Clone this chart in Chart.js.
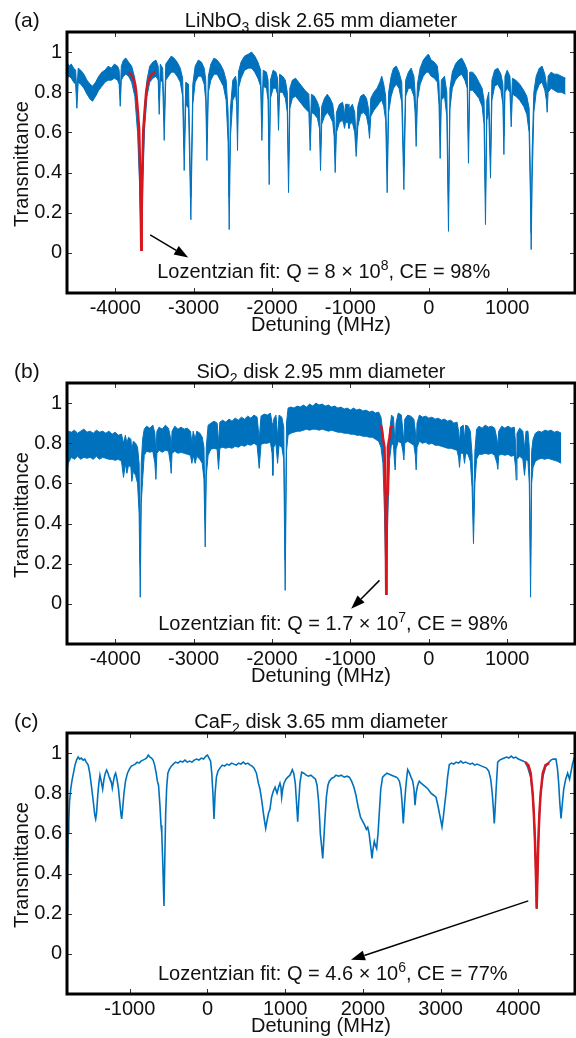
<!DOCTYPE html>
<html>
<head>
<meta charset="utf-8">
<script src="https://cdn.jsdelivr.net/npm/chart.js@4.4.1/dist/chart.umd.min.js"></script>
<style>
  body { margin: 0; background: #fff; width: 576px; height: 1038px; position: relative; overflow: hidden; }
  canvas { position: absolute; left: 0; }
</style>
</head>
<body>
<canvas id="chartA" width="576" height="336" style="top:0px"></canvas>
<canvas id="chartB" width="576" height="336" style="top:351px"></canvas>
<canvas id="chartC" width="577" height="337" style="top:701px"></canvas>
<script>
// ---- values ----
const yTicks = [0, 0.2, 0.4, 0.6, 0.8, 1];
const xTicksAB = [-4000, -3000, -2000, -1000, 0, 1000];
const xTicksC = [-1000, 0, 1000, 2000, 3000, 4000];

// panel (a): LiNbO3, noise band [detuning MHz, upper, lower]
const bandA = [
  [-4612,0.95,0.87],[-4590,0.93,0.88],[-4560,0.94,0.87],[-4530,0.92,0.85],[-4505,0.91,0.84],
  [-4489,0.80,0.72],[-4472,0.92,0.85],[-4440,0.91,0.84],[-4400,0.89,0.82],[-4360,0.86,0.79],
  [-4320,0.84,0.765],[-4290,0.83,0.755],[-4250,0.85,0.78],[-4210,0.88,0.81],[-4170,0.90,0.83],
  [-4130,0.91,0.85],[-4090,0.93,0.86],[-4050,0.92,0.86],[-4010,0.94,0.87],[-3970,0.93,0.86],
  [-3950,0.91,0.84],[-3936,0.79,0.73],[-3922,0.93,0.86],[-3895,0.96,0.88],[-3865,0.97,0.89],
  [-3830,0.95,0.88],[-3790,0.93,0.85],[-3750,0.87,0.78],[-3715,0.72,0.60],[-3690,0.45,0.35],
  [-3668,0.04,0.02],[-3648,0.45,0.35],[-3625,0.72,0.62],[-3595,0.86,0.78],[-3560,0.93,0.85],
  [-3520,0.95,0.87],[-3480,0.96,0.88],[-3452,0.93,0.86],[-3439,0.76,0.69],[-3425,0.94,0.86],
  [-3395,0.92,0.85],[-3375,0.66,0.56],[-3355,0.94,0.86],[-3320,0.96,0.88],[-3285,0.98,0.90],
  [-3250,0.97,0.90],[-3210,0.95,0.88],[-3170,0.92,0.85],[-3140,0.87,0.78],[-3120,0.52,0.41],
  [-3100,0.85,0.74],[-3065,0.84,0.72],[-3035,0.28,0.165],[-3010,0.84,0.74],[-2980,0.93,0.85],
  [-2940,0.96,0.88],[-2900,0.95,0.88],[-2865,0.92,0.84],[-2845,0.86,0.76],[-2830,0.56,0.46],
  [-2812,0.88,0.80],[-2780,0.94,0.86],[-2740,0.97,0.89],[-2700,0.96,0.89],[-2660,0.94,0.86],
  [-2620,0.91,0.83],[-2585,0.86,0.76],[-2560,0.70,0.55],[-2546,0.28,0.116],[-2530,0.72,0.58],
  [-2500,0.86,0.76],[-2465,0.88,0.79],[-2450,0.84,0.74],[-2440,0.60,0.51],[-2428,0.90,0.82],
  [-2395,0.95,0.87],[-2350,0.98,0.91],[-2300,0.99,0.92],[-2260,1.00,0.92],[-2220,0.98,0.90],
  [-2180,0.95,0.87],[-2145,0.91,0.83],[-2129,0.68,0.56],[-2112,0.91,0.83],[-2070,0.90,0.82],
  [-2050,0.86,0.76],[-2036,0.46,0.34],[-2020,0.86,0.77],[-1985,0.91,0.82],[-1950,0.90,0.82],
  [-1930,0.87,0.79],[-1917,0.72,0.61],[-1903,0.89,0.80],[-1865,0.88,0.80],[-1830,0.86,0.77],
  [-1805,0.80,0.70],[-1789,0.42,0.30],[-1772,0.82,0.72],[-1740,0.86,0.77],[-1700,0.87,0.78],
  [-1660,0.85,0.76],[-1620,0.83,0.74],[-1580,0.81,0.72],[-1530,0.79,0.70],[-1513,0.60,0.51],
  [-1497,0.79,0.70],[-1460,0.78,0.69],[-1420,0.75,0.67],[-1395,0.72,0.62],[-1381,0.52,0.41],
  [-1366,0.73,0.64],[-1330,0.77,0.68],[-1295,0.79,0.70],[-1260,0.77,0.68],[-1225,0.74,0.65],
  [-1208,0.68,0.58],[-1194,0.50,0.40],[-1178,0.70,0.60],[-1140,0.74,0.65],[-1100,0.75,0.66],
  [-1085,0.72,0.64],[-1075,0.68,0.62],[-1062,0.74,0.65],[-1030,0.74,0.65],[-1018,0.70,0.62],
  [-1008,0.72,0.64],[-975,0.74,0.65],[-945,0.70,0.60],[-926,0.56,0.48],[-905,0.73,0.63],
  [-870,0.78,0.69],[-830,0.79,0.70],[-795,0.77,0.68],[-770,0.72,0.63],[-756,0.64,0.57],
  [-740,0.77,0.68],[-700,0.80,0.71],[-660,0.82,0.73],[-625,0.85,0.75],[-600,0.88,0.76],
  [-575,0.84,0.73],[-550,0.78,0.66],[-531,0.42,0.30],[-512,0.80,0.70],[-480,0.88,0.78],
  [-450,0.92,0.82],[-415,0.93,0.84],[-380,0.90,0.82],[-345,0.85,0.75],[-318,0.43,0.315],
  [-295,0.86,0.78],[-260,0.90,0.82],[-225,0.92,0.82],[-190,0.88,0.78],[-175,0.80,0.70],
  [-161,0.63,0.53],[-145,0.84,0.76],[-110,0.92,0.84],[-70,0.96,0.88],[-30,0.98,0.90],
  [-5,0.99,0.90],[30,0.96,0.88],[70,0.95,0.87],[110,0.93,0.85],[130,0.85,0.74],
  [145,0.58,0.47],[160,0.86,0.76],[200,0.88,0.78],[230,0.80,0.68],[251,0.24,0.107],
  [270,0.82,0.72],[300,0.90,0.82],[340,0.94,0.86],[380,0.96,0.88],[420,0.97,0.89],
  [460,0.94,0.86],[490,0.91,0.82],[506,0.56,0.446],[522,0.90,0.81],[560,0.90,0.81],
  [600,0.88,0.79],[640,0.85,0.77],[680,0.82,0.73],[705,0.76,0.64],[723,0.28,0.141],
  [740,0.76,0.66],[765,0.80,0.70],[787,0.48,0.372],[805,0.86,0.76],[840,0.91,0.83],
  [880,0.92,0.84],[920,0.89,0.81],[945,0.84,0.74],[958,0.58,0.49],[972,0.88,0.80],
  [1000,0.91,0.82],[1035,0.88,0.80],[1051,0.72,0.628],[1067,0.87,0.79],[1110,0.86,0.78],
  [1160,0.84,0.76],[1210,0.81,0.73],[1250,0.78,0.69],[1280,0.72,0.60],[1295,0.40,0.30],
  [1306,0.10,0.016],[1318,0.50,0.35],[1340,0.80,0.70],[1370,0.88,0.80],[1410,0.92,0.84],
  [1445,0.93,0.85],[1480,0.89,0.81],[1500,0.84,0.76],[1510,0.77,0.70],[1522,0.88,0.80],
  [1560,0.90,0.82],[1600,0.89,0.81],[1640,0.89,0.80],[1690,0.88,0.80],[1744,0.87,0.79]
];
const fitA = [
  [-3830,0.896],[-3800,0.89],[-3770,0.87],[-3745,0.84],[-3732,0.80],[-3710,0.70],[-3694,0.61],
  [-3682,0.40],[-3674,0.20],[-3668,0.016],[-3662,0.20],[-3654,0.40],[-3642,0.61],[-3626,0.70],
  [-3605,0.80],[-3590,0.84],[-3565,0.87],[-3530,0.89],[-3490,0.90]
];

// panel (b): SiO2
const bandB = [
  [-4612,0.84,0.66],[-4600,0.86,0.70],[-4560,0.855,0.73],[-4520,0.865,0.72],[-4480,0.85,0.735],
  [-4440,0.86,0.72],[-4400,0.87,0.73],[-4360,0.855,0.725],[-4320,0.86,0.73],[-4280,0.85,0.72],
  [-4240,0.865,0.735],[-4200,0.855,0.72],[-4160,0.86,0.73],[-4120,0.85,0.725],[-4080,0.86,0.72],
  [-4040,0.845,0.72],[-4000,0.855,0.715],[-3960,0.84,0.72],[-3920,0.845,0.71],[-3894,0.80,0.63],
  [-3870,0.84,0.70],[-3851,0.80,0.65],[-3830,0.83,0.69],[-3800,0.82,0.68],[-3788,0.76,0.61],
  [-3770,0.81,0.66],[-3740,0.80,0.64],[-3715,0.78,0.60],[-3695,0.70,0.45],[-3681,0.20,0.033],
  [-3668,0.70,0.50],[-3650,0.82,0.62],[-3630,0.87,0.74],[-3600,0.885,0.76],[-3560,0.875,0.755],
  [-3520,0.89,0.76],[-3494,0.85,0.70],[-3481,0.75,0.62],[-3468,0.86,0.75],[-3440,0.88,0.765],
  [-3400,0.87,0.755],[-3360,0.89,0.765],[-3320,0.875,0.76],[-3296,0.83,0.70],[-3286,0.76,0.65],
  [-3275,0.86,0.75],[-3240,0.885,0.76],[-3200,0.87,0.75],[-3160,0.88,0.755],[-3120,0.87,0.75],
  [-3080,0.875,0.745],[-3040,0.86,0.74],[-3022,0.80,0.70],[-3005,0.86,0.74],[-2980,0.82,0.70],
  [-2960,0.86,0.735],[-2920,0.85,0.72],[-2890,0.83,0.70],[-2868,0.78,0.62],[-2852,0.42,0.283],
  [-2838,0.78,0.64],[-2815,0.89,0.74],[-2780,0.90,0.77],[-2740,0.91,0.775],[-2700,0.90,0.77],
  [-2682,0.80,0.67],[-2665,0.905,0.775],[-2630,0.915,0.78],[-2590,0.905,0.775],[-2550,0.92,0.78],
  [-2510,0.91,0.775],[-2470,0.925,0.785],[-2430,0.915,0.78],[-2390,0.93,0.79],[-2350,0.92,0.785],
  [-2310,0.935,0.795],[-2270,0.925,0.79],[-2230,0.94,0.80],[-2190,0.93,0.79],[-2163,0.82,0.675],
  [-2140,0.935,0.795],[-2100,0.945,0.80],[-2060,0.94,0.80],[-2020,0.95,0.805],[-1999,0.90,0.75],
  [-1989,0.79,0.64],[-1978,0.92,0.78],[-1950,0.94,0.80],[-1929,0.83,0.70],[-1910,0.94,0.79],
  [-1875,0.93,0.78],[-1850,0.88,0.72],[-1832,0.22,0.067],[-1815,0.90,0.76],[-1795,0.975,0.84],
  [-1760,0.98,0.85],[-1720,0.975,0.855],[-1680,0.985,0.86],[-1640,0.98,0.86],[-1600,0.99,0.865],
  [-1560,0.98,0.87],[-1520,0.995,0.865],[-1480,0.985,0.87],[-1440,1.0,0.87],[-1400,0.99,0.865],
  [-1360,0.995,0.87],[-1320,0.985,0.865],[-1280,0.99,0.86],[-1240,0.98,0.865],[-1200,0.985,0.86],
  [-1160,0.975,0.855],[-1120,0.98,0.855],[-1080,0.97,0.85],[-1040,0.975,0.85],[-1000,0.965,0.845],
  [-960,0.975,0.845],[-920,0.965,0.84],[-880,0.97,0.84],[-840,0.96,0.835],[-800,0.965,0.835],
  [-760,0.955,0.83],[-720,0.96,0.83],[-680,0.95,0.82],[-640,0.955,0.81],[-610,0.93,0.78],
  [-585,0.85,0.70],[-565,0.60,0.45],[-543,0.15,0.05],[-522,0.60,0.45],[-500,0.86,0.72],
  [-475,0.94,0.80],[-450,0.93,0.79],[-440,0.86,0.72],[-429,0.78,0.667],[-418,0.90,0.77],
  [-390,0.95,0.81],[-350,0.94,0.80],[-330,0.86,0.76],[-318,0.80,0.717],[-306,0.92,0.80],
  [-270,0.94,0.81],[-230,0.935,0.80],[-190,0.92,0.79],[-172,0.86,0.74],[-161,0.78,0.667],
  [-150,0.90,0.78],[-120,0.94,0.81],[-80,0.93,0.80],[-40,0.935,0.805],[0,0.925,0.795],
  [40,0.93,0.80],[80,0.92,0.79],[120,0.925,0.79],[160,0.915,0.785],[200,0.92,0.78],
  [240,0.91,0.775],[280,0.915,0.775],[320,0.90,0.77],[360,0.905,0.765],[380,0.86,0.73],
  [392,0.80,0.68],[405,0.88,0.75],[440,0.89,0.75],[456,0.82,0.70],[470,0.89,0.75],
  [500,0.885,0.745],[530,0.86,0.71],[552,0.74,0.58],[570,0.43,0.30],[588,0.76,0.60],
  [610,0.87,0.72],[640,0.885,0.745],[680,0.875,0.745],[720,0.89,0.75],[760,0.88,0.745],
  [800,0.885,0.75],[840,0.875,0.74],[870,0.82,0.70],[881,0.78,0.67],[892,0.86,0.74],
  [930,0.885,0.745],[970,0.875,0.74],[1010,0.885,0.745],[1050,0.875,0.735],[1090,0.88,0.74],
  [1107,0.80,0.68],[1115,0.72,0.617],[1125,0.85,0.72],[1160,0.875,0.735],[1200,0.86,0.72],
  [1221,0.77,0.64],[1240,0.86,0.72],[1265,0.86,0.71],[1282,0.78,0.60],[1298,0.20,0.033],
  [1312,0.76,0.60],[1330,0.82,0.68],[1360,0.85,0.71],[1400,0.86,0.72],[1440,0.855,0.725],
  [1480,0.865,0.72],[1520,0.86,0.725],[1560,0.865,0.72],[1600,0.855,0.715],[1640,0.86,0.71],
  [1689,0.85,0.70]
];
const fitB = [
  [-620,0.89],[-600,0.875],[-586,0.83],[-565,0.78],[-553,0.55],[-548,0.30],[-543,0.05],
  [-538,0.30],[-533,0.55],[-522,0.78],[-501,0.83],[-486,0.875],[-466,0.89]
];

// panel (c): CaF2, single trace [detuning MHz, transmittance]
const lineC = [
  [-1808,0.22],[-1802,0.42],[-1795,0.60],[-1785,0.66],[-1775,0.76],[-1760,0.82],[-1745,0.86],
  [-1725,0.90],[-1705,0.94],[-1685,0.965],[-1665,0.98],[-1645,0.97],[-1625,0.975],[-1600,0.965],
  [-1580,0.97],[-1560,0.955],[-1535,0.94],[-1515,0.90],[-1495,0.84],[-1470,0.76],[-1450,0.69],
  [-1439,0.672],[-1428,0.70],[-1412,0.79],[-1398,0.85],[-1384,0.89],[-1368,0.86],[-1349,0.82],
  [-1332,0.87],[-1315,0.90],[-1298,0.916],[-1280,0.90],[-1265,0.88],[-1255,0.87],[-1240,0.86],
  [-1225,0.825],[-1210,0.86],[-1195,0.89],[-1182,0.90],[-1165,0.87],[-1145,0.82],[-1125,0.74],
  [-1112,0.69],[-1104,0.672],[-1092,0.72],[-1075,0.80],[-1055,0.86],[-1030,0.90],[-1005,0.92],
  [-980,0.935],[-955,0.94],[-930,0.945],[-905,0.955],[-880,0.95],[-855,0.96],[-830,0.965],
  [-805,0.97],[-785,0.975],[-762,0.99],[-740,0.98],[-720,0.975],[-700,0.965],[-680,0.94],
  [-660,0.90],[-645,0.86],[-630,0.84],[-612,0.74],[-598,0.64],[-588,0.60],[-575,0.45],
  [-560,0.238],[-548,0.50],[-538,0.70],[-525,0.83],[-510,0.90],[-490,0.92],[-465,0.935],
  [-440,0.945],[-410,0.955],[-380,0.95],[-350,0.96],[-320,0.955],[-290,0.965],[-260,0.955],
  [-230,0.96],[-200,0.955],[-170,0.965],[-140,0.97],[-110,0.965],[-80,0.975],[-50,0.97],
  [-20,0.985],[0,0.99],[20,0.975],[40,0.96],[55,0.90],[70,0.80],[84,0.672],[98,0.80],
  [115,0.88],[135,0.91],[160,0.925],[190,0.94],[220,0.935],[250,0.945],[280,0.94],[310,0.95],
  [340,0.945],[370,0.94],[400,0.95],[430,0.945],[460,0.955],[490,0.945],[520,0.95],[550,0.94],
  [575,0.935],[600,0.925],[630,0.90],[655,0.85],[676,0.82],[700,0.76],[720,0.70],[735,0.66],
  [749,0.625],[765,0.66],[785,0.70],[804,0.72],[825,0.78],[847,0.81],[870,0.83],[895,0.80],
  [915,0.83],[933,0.85],[945,0.83],[955,0.78],[968,0.82],[985,0.85],[1010,0.87],[1035,0.88],
  [1062,0.89],[1080,0.905],[1092,0.917],[1110,0.90],[1130,0.85],[1145,0.76],[1161,0.658],
  [1175,0.76],[1190,0.85],[1212,0.905],[1240,0.90],[1270,0.89],[1300,0.885],[1330,0.89],
  [1360,0.88],[1390,0.87],[1410,0.84],[1430,0.76],[1445,0.66],[1452,0.60],[1468,0.54],
  [1483,0.475],[1495,0.55],[1510,0.66],[1530,0.78],[1550,0.84],[1568,0.86],[1600,0.875],
  [1630,0.88],[1654,0.89],[1690,0.885],[1720,0.89],[1760,0.88],[1795,0.885],[1825,0.88],
  [1855,0.86],[1885,0.83],[1911,0.79],[1940,0.73],[1970,0.68],[1997,0.66],[2025,0.64],
  [2045,0.62],[2062,0.63],[2080,0.60],[2095,0.55],[2105,0.52],[2117,0.475],[2130,0.52],
  [2147,0.56],[2162,0.54],[2177,0.525],[2195,0.60],[2211,0.70],[2230,0.82],[2254,0.88],
  [2280,0.89],[2310,0.90],[2340,0.895],[2370,0.89],[2400,0.885],[2430,0.88],[2448,0.875],
  [2470,0.86],[2490,0.82],[2505,0.75],[2520,0.65],[2535,0.74],[2550,0.82],[2565,0.88],
  [2577,0.917],[2600,0.90],[2620,0.88],[2641,0.86],[2658,0.82],[2671,0.74],[2685,0.80],
  [2705,0.84],[2726,0.86],[2750,0.85],[2780,0.84],[2812,0.83],[2840,0.82],[2876,0.80],
  [2910,0.79],[2941,0.78],[2965,0.74],[2990,0.69],[3005,0.66],[3018,0.633],[3035,0.68],
  [3055,0.75],[3070,0.80],[3090,0.88],[3112,0.942],[3140,0.95],[3170,0.945],[3200,0.955],
  [3230,0.95],[3260,0.96],[3290,0.95],[3320,0.955],[3350,0.95],[3380,0.945],[3410,0.95],
  [3440,0.94],[3470,0.945],[3500,0.94],[3530,0.935],[3560,0.93],[3590,0.925],[3620,0.91],
  [3645,0.87],[3665,0.80],[3680,0.72],[3691,0.65],[3702,0.72],[3715,0.82],[3735,0.955],
  [3760,0.965],[3790,0.97],[3820,0.975],[3850,0.98],[3880,0.975],[3910,0.985],[3940,0.975],
  [3970,0.98],[4000,0.97],[4030,0.965],[4060,0.96],[4090,0.955],[4120,0.93],[4160,0.88],
  [4190,0.78],[4210,0.62],[4225,0.42],[4237,0.225],[4249,0.42],[4264,0.62],[4284,0.78],
  [4314,0.88],[4350,0.93],[4385,0.95],[4420,0.965],[4450,0.97],[4485,0.97],[4505,0.92],
  [4520,0.85],[4535,0.75],[4550,0.675],[4565,0.74],[4585,0.82],[4610,0.87],[4635,0.90],
  [4660,0.87],[4680,0.91],[4700,0.95],[4721,0.975],[4743,0.98]
];
const fitC = [
  [4090,0.955],[4130,0.94],[4160,0.90],[4185,0.80],[4200,0.70],[4215,0.56],[4228,0.38],
  [4237,0.225],[4246,0.38],[4258,0.56],[4272,0.70],[4288,0.80],[4315,0.90],[4350,0.94],[4399,0.95]
];

const BLUE = '#0072bd';
const RED = '#d7161e';
const FONT = '"Liberation Sans", Arial, Helvetica, sans-serif';

function richText(ctx, parts, x, y, align) {
  // parts: [text, 0 normal | -1 subscript | 1 superscript]
  const widths = parts.map(([t, k]) => {
    ctx.font = (k ? 14 : 20) + 'px ' + FONT;
    return ctx.measureText(t).width;
  });
  let cx = align === 'center' ? x - widths.reduce((s, w) => s + w, 0) / 2 : x;
  ctx.textAlign = 'left';
  ctx.textBaseline = 'alphabetic';
  parts.forEach(([t, k], i) => {
    ctx.font = (k ? 14 : 20) + 'px ' + FONT;
    ctx.fillText(t, cx, y + (k < 0 ? 5 : k > 0 ? -8 : 0));
    cx += widths[i];
  });
}

function decor(cfg) {
  return {
    id: 'decor',
    afterDraw(chart) {
      const { ctx, chartArea: a, scales: { x, y } } = chart;
      ctx.save();
      // inward tick marks on all four sides
      ctx.strokeStyle = '#333';
      ctx.lineWidth = 1;
      ctx.beginPath();
      cfg.xTicks.forEach(v => {
        const px = Math.round(x.getPixelForValue(v)) + 0.5;
        ctx.moveTo(px, a.bottom); ctx.lineTo(px, a.bottom - 5);
        ctx.moveTo(px, a.top); ctx.lineTo(px, a.top + 5);
      });
      yTicks.forEach(v => {
        const py = Math.round(y.getPixelForValue(v)) + 0.5;
        ctx.moveTo(a.left, py); ctx.lineTo(a.left + 5, py);
        ctx.moveTo(a.right, py); ctx.lineTo(a.right - 5, py);
      });
      ctx.stroke();
      // heavy frame
      ctx.strokeStyle = '#000';
      ctx.lineWidth = 3;
      ctx.strokeRect(a.left, a.top, a.right - a.left, a.bottom - a.top);

      ctx.fillStyle = '#111';
      // panel letter and title
      ctx.font = '21px ' + FONT;
      ctx.textAlign = 'left';
      ctx.textBaseline = 'alphabetic';
      ctx.fillText(cfg.letter, 14, 27);
      richText(ctx, cfg.title, (a.left + a.right) / 2, 26.5, 'center');
      // axis titles
      ctx.font = '20px ' + FONT;
      ctx.textAlign = 'center';
      ctx.fillText('Detuning (MHz)', (a.left + a.right) / 2, 331);
      ctx.save();
      ctx.translate(28, 164);
      ctx.rotate(-Math.PI / 2);
      ctx.fillText('Transmittance', 0, 0);
      ctx.restore();
      // annotation
      richText(ctx, cfg.note, x.getPixelForValue(cfg.noteAt[0]), y.getPixelForValue(cfg.noteAt[1]), 'left');
      // arrow
      const x1 = x.getPixelForValue(cfg.arrow[0]), y1 = y.getPixelForValue(cfg.arrow[1]);
      const x2 = x.getPixelForValue(cfg.arrow[2]), y2 = y.getPixelForValue(cfg.arrow[3]);
      const ang = Math.atan2(y2 - y1, x2 - x1);
      const hl = 14, hw = 5;
      ctx.strokeStyle = '#000';
      ctx.fillStyle = '#000';
      ctx.lineWidth = 1.5;
      ctx.beginPath();
      ctx.moveTo(x1, y1);
      ctx.lineTo(x2 - hl * Math.cos(ang), y2 - hl * Math.sin(ang));
      ctx.stroke();
      ctx.beginPath();
      ctx.moveTo(x2, y2);
      ctx.lineTo(x2 - hl * Math.cos(ang) + hw * Math.sin(ang), y2 - hl * Math.sin(ang) - hw * Math.cos(ang));
      ctx.lineTo(x2 - hl * Math.cos(ang) - hw * Math.sin(ang), y2 - hl * Math.sin(ang) + hw * Math.cos(ang));
      ctx.closePath();
      ctx.fill();
      ctx.restore();
    }
  };
}

function axes(xMin, xMax, xTicks, xHeight) {
  return {
    x: {
      type: 'linear', min: xMin, max: xMax,
      afterBuildTicks: s => { s.ticks = xTicks.map(v => ({ value: v })); },
      afterFit: s => { s.height = xHeight; },
      grid: { display: false, drawTicks: false, tickLength: 0 },
      border: { display: false },
      ticks: { padding: 3, color: '#111', font: { family: FONT, size: 20 }, maxRotation: 0, callback: v => String(v) }
    },
    y: {
      type: 'linear', min: -0.2, max: 1.1,
      afterBuildTicks: s => { s.ticks = yTicks.map(v => ({ value: v })); },
      afterFit: s => { s.width = 67; },
      grid: { display: false, drawTicks: false, tickLength: 0 },
      border: { display: false },
      ticks: { padding: 5, color: '#111', font: { family: FONT, size: 20 }, callback: v => String(+v.toFixed(1)) }
    }
  };
}

const pts = rows => rows.map(r => ({ x: r[0], y: r[1] }));
const low = rows => rows.map(r => ({ x: r[0], y: r[2] }));

function bandChart(id, band, fit, cfg) {
  return new Chart(document.getElementById(id), {
    type: 'line',
    data: {
      datasets: [
        { data: pts(band), borderColor: BLUE, backgroundColor: BLUE, borderWidth: 1, fill: '+1', order: 2 },
        { data: low(band), borderColor: BLUE, backgroundColor: BLUE, borderWidth: 1, fill: false, order: 2 },
        { data: pts(fit), borderColor: RED, borderWidth: 2.5, fill: false, order: 0 }
      ]
    },
    options: {
      responsive: false, animation: false, devicePixelRatio: 1, events: [],
      layout: { padding: { top: 32, right: 1, left: 0, bottom: 0 } },
      elements: { point: { radius: 0 }, line: { tension: 0 } },
      plugins: { legend: { display: false }, tooltip: { enabled: false } },
      scales: axes(-4615, 1865, xTicksAB, 43)
    },
    plugins: [decor(cfg)]
  });
}

bandChart('chartA', bandA, fitA, {
  letter: '(a)', xTicks: xTicksAB,
  title: [['LiNbO', 0], ['3', -1], [' disk 2.65 mm diameter', 0]],
  note: [['Lozentzian fit: Q = 8 \u00d7 10', 0], ['8', 1], [', CE = 98%', 0]],
  noteAt: [-3464, -0.127],
  arrow: [-3554, 0.09, -3069, -0.023]
});

bandChart('chartB', bandB, fitB, {
  letter: '(b)', xTicks: xTicksAB,
  title: [['SiO', 0], ['2', -1], [' disk 2.95 mm diameter', 0]],
  note: [['Lozentzian fit: Q = 1.7 \u00d7 10', 0], ['7', 1], [', CE = 98%', 0]],
  noteAt: [-3452, -0.13],
  arrow: [-629, 0.117, -990, -0.025]
});

new Chart(document.getElementById('chartC'), {
  type: 'line',
  data: {
    datasets: [
      { data: pts(lineC), borderColor: BLUE, borderWidth: 1.6, fill: false, order: 2 },
      { data: pts(fitC), borderColor: RED, borderWidth: 2.5, fill: false, order: 0 }
    ]
  },
  options: {
    responsive: false, animation: false, devicePixelRatio: 1, events: [],
    layout: { padding: { top: 32, right: 2, left: 0, bottom: 0 } },
    elements: { point: { radius: 0 }, line: { tension: 0 } },
    plugins: { legend: { display: false }, tooltip: { enabled: false } },
    scales: axes(-1808, 4730, xTicksC, 44)
  },
  plugins: [decor({
    letter: '(c)', xTicks: xTicksC,
    title: [['CaF', 0], ['2', -1], [' disk 3.65 mm diameter', 0]],
    note: [['Lozentzian fit: Q = 4.6 \u00d7 10', 0], ['6', 1], [', CE = 77%', 0]],
    noteAt: [-637, -0.13],
    arrow: [4129, 0.264, 1847, -0.03]
  })]
});
</script>
</body>
</html>
